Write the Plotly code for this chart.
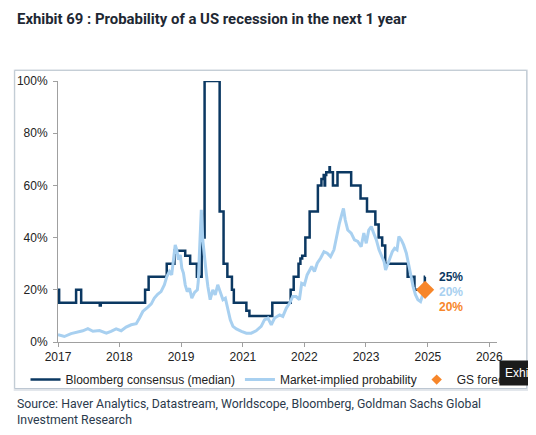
import plotly.graph_objects as go

# ---------------- data ----------------
bbg_dates = ["2017-02-01", "2017-02-10", "2017-06-24", "2017-08-03", "2017-12-28", "2018-01-05",
             "2018-12-21", "2019-01-18", "2019-06-10", "2019-08-10", "2019-11-03", "2019-12-12",
             "2020-02-03", "2020-03-12", "2020-04-04", "2020-08-01", "2020-09-01", "2020-10-01",
             "2020-11-06", "2020-11-21", "2021-02-28", "2021-03-24", "2021-04-19", "2021-09-21",
             "2022-02-13", "2022-03-09", "2022-04-16", "2022-05-01", "2022-05-15", "2022-06-09",
             "2022-07-13", "2022-09-16", "2022-10-14", "2022-11-01", "2022-11-08", "2022-11-12",
             "2022-11-21", "2022-12-17", "2022-12-20", "2023-01-13", "2023-02-18", "2023-06-06",
             "2023-08-19", "2023-10-09", "2023-12-14", "2024-01-09", "2024-02-06", "2024-03-01",
             "2024-08-25", "2024-10-18", "2025-01-08", "2025-01-10"]
bbg_values = [20, 15, 20, 15, 14, 15,
              20, 25, 30, 35, 33, 30,
              25, 40, 100, 50, 30, 25,
              20, 15, 12, 10, 10, 15,
              20, 25, 30, 32, 33, 40,
              50, 60, 62.5, 64, 60, 64,
              65, 67, 65, 60, 65, 60,
              55, 50, 45, 40, 37, 30,
              25, 20, 25, 25]

mkt_dates = ["2017-02-01", "2017-03-23", "2017-05-15", "2017-07-07", "2017-08-16", "2017-09-25",
             "2017-11-04", "2017-12-26", "2018-02-18", "2018-03-27", "2018-05-06", "2018-06-15",
             "2018-07-24", "2018-09-02", "2018-10-12", "2018-11-07", "2018-12-03", "2019-01-12",
             "2019-02-08", "2019-03-04", "2019-03-30", "2019-04-26", "2019-05-22", "2019-06-10",
             "2019-07-01", "2019-07-19", "2019-08-05", "2019-08-16", "2019-08-28", "2019-09-11",
             "2019-09-25", "2019-10-07", "2019-10-20", "2019-11-03", "2019-11-19", "2019-12-07",
             "2019-12-25", "2020-01-16", "2020-02-07", "2020-02-14", "2020-02-25", "2020-03-09",
             "2020-03-21", "2020-04-04", "2020-04-17", "2020-04-30", "2020-05-18", "2020-06-08",
             "2020-06-27", "2020-07-17", "2020-08-06", "2020-08-27", "2020-09-15", "2020-10-05",
             "2020-10-24", "2020-11-14", "2020-12-11", "2021-01-20", "2021-02-28", "2021-04-07",
             "2021-05-16", "2021-06-25", "2021-07-21", "2021-08-17", "2021-09-13", "2021-10-09",
             "2021-11-17", "2021-12-13", "2022-01-10", "2022-02-05", "2022-03-01", "2022-03-28",
             "2022-04-23", "2022-05-11", "2022-06-02", "2022-06-23", "2022-07-11", "2022-07-29",
             "2022-08-20", "2022-09-11", "2022-10-07", "2022-11-03", "2022-11-29", "2022-12-25",
             "2023-01-21", "2023-02-09", "2023-03-05", "2023-03-26", "2023-04-06", "2023-04-20",
             "2023-05-10", "2023-06-06", "2023-07-02", "2023-07-28", "2023-08-24", "2023-09-14",
             "2023-10-03", "2023-10-23", "2023-11-12", "2023-12-01", "2023-12-22", "2024-01-12",
             "2024-02-01", "2024-02-21", "2024-03-04", "2024-03-17", "2024-04-05", "2024-04-26",
             "2024-05-14", "2024-06-02", "2024-06-17", "2024-07-06", "2024-07-24", "2024-08-15",
             "2024-09-03", "2024-09-21", "2024-10-07", "2024-10-26", "2024-11-14", "2024-12-05",
             "2024-12-20", "2025-01-08"]
mkt_values = [2.8, 2.1, 3.2, 3.7, 4.3, 5.1,
              4.1, 4.4, 3.4, 4.1, 5.0, 4.3,
              5.7, 6.6, 7.0, 9.2, 11.7, 13.4,
              14.6, 16.8, 18.3, 19.3, 21.9, 25.0,
              27.0, 25.7, 32.7, 37.2, 35.3, 31.5,
              33.4, 28.3, 26.4, 21.9, 19.3, 20.6,
              16.8, 19.0, 20.0, 23.2, 36.0, 50.6,
              39.0, 31.5, 26.4, 21.3, 16.2, 20.0,
              18.1, 21.9, 19.3, 16.2, 16.8, 12.3,
              8.5, 6.0, 5.0, 4.1, 3.4, 3.4,
              4.3, 6.0, 8.5, 9.2, 6.6, 9.2,
              10.4, 9.8, 13.0, 14.9, 17.4, 17.4,
              16.2, 22.5, 21.9, 25.7, 27.6, 28.9,
              27.0, 30.2, 32.1, 34.6, 34.0, 32.7,
              35.3, 40.4, 45.5, 49.3, 51.2, 46.8,
              42.9, 41.7, 39.1, 38.5, 36.5, 41.7,
              37.8, 42.9, 44.2, 41.7, 39.1, 35.3,
              32.7, 30.8, 27.6, 29.5, 31.5, 34.6,
              35.9, 35.3, 40.4, 39.1, 37.2, 34.0,
              29.5, 25.1, 21.3, 18.1, 16.2, 15.5,
              17.4, 20.6]

gs_dates = ["2025-01-10"]
gs_values = [20]

y_tickvals = [0, 20, 40, 60, 80, 100]
y_ticktext = ["0%", "20%", "40%", "60%", "80%", "100%"]
end_labels = ["25%", "20%", "20%"]

NAVY = "#0B3862"
LIGHT = "#A8D0F0"
ORANGE = "#F7862A"

fig = go.Figure()
fig.add_trace(go.Scatter(x=bbg_dates, y=bbg_values, mode="lines", line_shape="hv",
                         line=dict(color=NAVY, width=2.5), name="Bloomberg consensus (median)"))
fig.add_trace(go.Scatter(x=mkt_dates, y=mkt_values, mode="lines",
                         line=dict(color=LIGHT, width=3), name="Market-implied probability"))
fig.add_trace(go.Scatter(x=gs_dates, y=gs_values, mode="markers",
                         marker=dict(symbol="diamond", size=14, color=ORANGE),
                         name="GS forecast", showlegend=False))
# legend entry for the GS forecast (small marker, as in the reference legend)
fig.add_trace(go.Scatter(x=[None], y=[None], mode="markers",
                         marker=dict(symbol="diamond", size=8, color=ORANGE),
                         name="GS forecast", legend="legend2"))

LBL_FONT = "Liberation Sans, Arial"
fig.add_annotation(x="2025-04-12", y=bbg_values[-1], text="<b>" + end_labels[0] + "</b>", showarrow=False,
                   xanchor="left", yanchor="middle", font=dict(color=NAVY, size=12, family=LBL_FONT))
fig.add_annotation(x="2025-04-12", y=mkt_values[-1], yshift=-4, text="<b>" + end_labels[1] + "</b>", showarrow=False,
                   xanchor="left", yanchor="middle", font=dict(color=LIGHT, size=12, family=LBL_FONT))
fig.add_annotation(x="2025-04-12", y=gs_values[0], yshift=-17, text="<b>" + end_labels[2] + "</b>", showarrow=False,
                   xanchor="left", yanchor="middle", font=dict(color=ORANGE, size=12, family=LBL_FONT))

# title and source
fig.add_annotation(xref="paper", yref="paper", x=-0.0986, y=1.2366, xanchor="left", yanchor="middle",
                   text="<b>Exhibit 69 : Probability of a US recession in the next 1 year</b>", showarrow=False,
                   font=dict(size=14.9, color="#1E2833", family="Roboto, sans-serif"))
fig.add_annotation(xref="paper", yref="paper", x=-0.0986, y=-0.2675, xanchor="left", yanchor="middle",
                   text="Source: Haver Analytics, Datastream, Worldscope, Bloomberg, Goldman Sachs Global<br>Investment Research",
                   showarrow=False, align="left",
                   font=dict(size=12.3, color="#2B3A4C", family="Roboto, sans-serif"))

# frame with soft shadow
fig.add_shape(type="rect", xref="paper", yref="paper", x0=-0.1010, x1=1.0735, y0=-0.1880, y1=1.0440,
              line=dict(width=0), fillcolor="#E3E7EC", layer="below")
fig.add_shape(type="rect", xref="paper", yref="paper", x0=-0.0986, x1=1.0677, y0=-0.1785, y1=1.0409,
              line=dict(width=1, color="#B9C4CF"), fillcolor="white", layer="below")

# tooltip artifact on the right
fig.add_annotation(xref="paper", yref="paper", x=1.0039, y=-0.119, xanchor="left", yanchor="middle",
                   text="Exhibit 69", showarrow=False, bgcolor="#1B1B1B", borderpad=5,
                   font=dict(size=12, color="white", family=LBL_FONT))

fig.update_layout(
    width=536, height=435,
    margin=dict(l=50.3, r=46.7, t=72.7, b=100.7, autoexpand=False),
    paper_bgcolor="white", plot_bgcolor="white",
    font=dict(family=LBL_FONT, size=12, color="#222222"),
    showlegend=True,
    legend=dict(orientation="h", x=-0.074, xanchor="left", y=-0.144, yanchor="middle",
                font=dict(size=12, color="#222222"), bgcolor="rgba(0,0,0,0)", itemwidth=30),
    legend2=dict(orientation="h", x=0.817, xanchor="left", y=-0.144, yanchor="middle",
                 font=dict(size=12, color="#222222"), bgcolor="rgba(0,0,0,0)", itemwidth=30),
    xaxis=dict(type="date", range=["2017-02-01", "2026-08-01"], tick0="2017-02-01", dtick="M16",
               tickformat="%Y", showgrid=False, showline=True, linecolor="#A0A0A0", linewidth=1,
               ticks="outside", ticklen=4, tickcolor="#A0A0A0", zeroline=False,
               tickfont=dict(size=12, color="#222222")),
    yaxis=dict(range=[0, 100], tickvals=y_tickvals, ticktext=y_ticktext,
               showgrid=False, showline=True, linecolor="#A0A0A0", linewidth=1,
               ticks="outside", ticklen=4, tickcolor="#A0A0A0", zeroline=False,
               ticklabelstandoff=3, tickfont=dict(size=12, color="#222222")),
)

fig.write_html("out.html")
